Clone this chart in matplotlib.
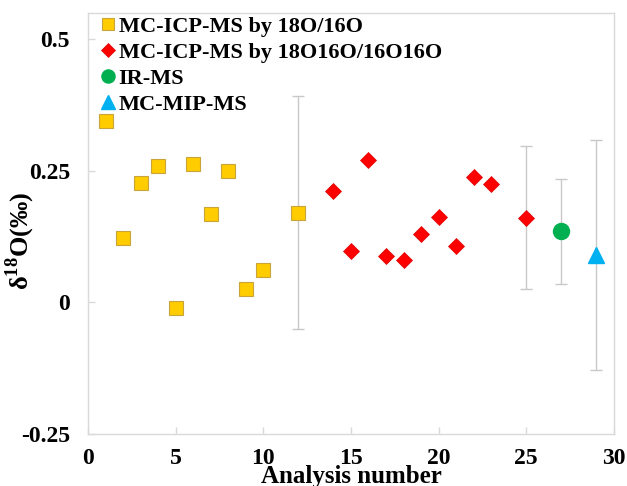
import matplotlib
matplotlib.use("Agg")
import matplotlib.pyplot as plt

plt.rcParams['font.family'] = ['Liberation Serif', 'DejaVu Serif']
plt.rcParams['font.weight'] = 'bold'
plt.rcParams['mathtext.fontset'] = 'custom'
plt.rcParams['mathtext.rm'] = 'Liberation Serif:bold'
plt.rcParams['mathtext.bf'] = 'Liberation Serif:bold'

# delta 18O results per analysis, grouped by method
n_1816 = [1, 2, 3, 4, 5, 6, 7, 8, 9, 10, 12]
d_1816 = [0.345, 0.122, 0.228, 0.260, -0.010, 0.263, 0.169, 0.249, 0.026, 0.062, 0.171]
n_3432 = [14, 15, 16, 17, 18, 19, 20, 21, 22, 23, 25]
d_3432 = [0.211, 0.097, 0.270, 0.089, 0.081, 0.130, 0.163, 0.108, 0.239, 0.225, 0.161]
n_irms = [27]
d_irms = [0.135]
n_mip = [29]
d_mip = [0.090]

# uncertainty shown only on the summary points
err_n = [12, 25, 27, 29]
err_d = [0.171, 0.161, 0.135, 0.090]
err_u = [0.222, 0.136, 0.100, 0.219]

fig, ax = plt.subplots(figsize=(6.27, 4.86), dpi=100)
fig.subplots_adjust(left=0.1404, right=0.979, bottom=0.107, top=0.973)

ax.errorbar(err_n, err_d, yerr=err_u, fmt='none', ecolor='#C8C8C8',
            elinewidth=1, capsize=4.3, capthick=1, zorder=1)

ax.plot(n_1816, d_1816, 's', ms=10, mfc='#FFCC00', mec='#C8A43A', mew=0.8,
        label='MC-ICP-MS by 18O/16O', zorder=3)
ax.plot(n_3432, d_3432, 'D', ms=8.2, mfc='#FF0000', mec='#E00000', mew=0.5,
        label='MC-ICP-MS by 18O16O/16O16O', zorder=3)
ax.plot(n_irms, d_irms, 'o', ms=11.5, mfc='#00B050', mec='#00B050',
        label='IR-MS', zorder=3)
ax.plot(n_mip, d_mip, '^', ms=12, mfc='#00B0F0', mec='#00B0F0',
        label='MC-MIP-MS', zorder=3)

ax.set_xlim(0, 30)
ax.set_ylim(-0.25, 0.55)
ax.set_xticks([0, 5, 10, 15, 20, 25, 30])
ax.set_yticks([-0.25, 0, 0.25, 0.5])
ax.set_yticklabels(['-0.25', '0', '0.25', '0.5'])

for s in ax.spines.values():
    s.set_color('#D9D9D9')
    s.set_linewidth(1)
ax.tick_params(direction='in', length=5, width=1, color='#D9D9D9',
               labelsize=17, pad=10)
ax.tick_params(axis='y', pad=13)

ax.set_xlabel('Analysis number', fontsize=18, fontweight='bold')
ax.xaxis.set_label_coords(0.5, -0.074)
ax.set_ylabel(r'δ$^{18}$O(‰)', fontsize=19, fontweight='bold')
ax.yaxis.set_label_coords(-0.098, 0.46)

ax.legend(loc='upper left', bbox_to_anchor=(102 / 627, 1 - 16 / 486),
          bbox_transform=fig.transFigure, frameon=False, fontsize=16,
          markerscale=0.82, handlelength=0.55, handletextpad=0.2,
          labelspacing=0.25, borderpad=0, borderaxespad=0)

fig.savefig('out.png', dpi=100)
